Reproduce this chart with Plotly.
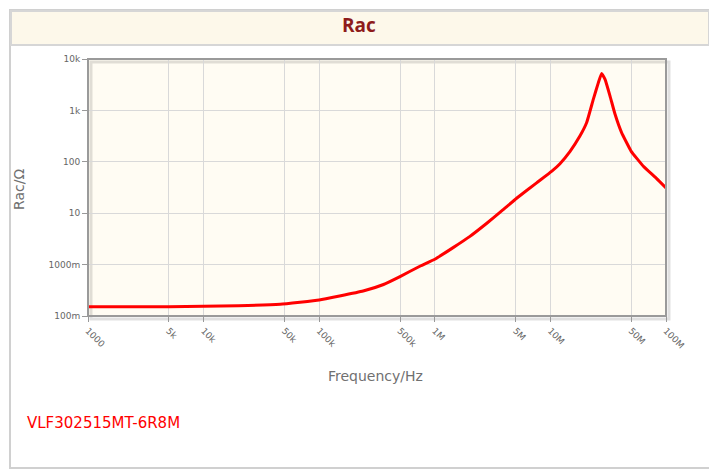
import plotly.graph_objects as go

# ---- data ----
freq_hz = [1e3, 2e3, 5e3, 1e4, 2e4, 4.6e4, 1e5, 1.5e5, 2.4e5, 3.6e5, 5e5, 7.5e5,
           1e6, 1.44e6, 2e6, 2.8e6, 3.9e6, 5.1e6, 7.6e6, 1.03e7, 1.21e7, 1.48e7,
           1.8e7, 2.06e7, 2.35e7, 2.6e7, 2.77e7, 2.97e7, 3.28e7, 3.62e7, 4.13e7,
           5e7, 6.37e7, 8.3e7, 1e8]
rac_ohm = [0.152, 0.151, 0.152, 0.155, 0.158, 0.169, 0.205, 0.245, 0.306, 0.41,
           0.585, 0.94, 1.27, 2.14, 3.5, 6.3, 11.7, 19.5, 39, 66, 92, 160,
           316, 580, 1640, 3470, 5250, 4000, 1900, 850, 370, 160, 82, 47, 31]

x_tickvals = [1e3, 5e3, 1e4, 5e4, 1e5, 5e5, 1e6, 5e6, 1e7, 5e7, 1e8]
x_ticktext = ["1000", "5k", "10k", "50k", "100k", "500k", "1M", "5M", "10M", "50M", "100M"]
y_tickvals = [0.1, 1, 10, 100, 1000, 10000]
y_ticktext = ["100m", "1000m", "10", "100", "1k", "10k"]

part_name = "VLF302515MT-6R8M"
chart_title = "Rac"
x_title = "Frequency/Hz"
y_title = "Rac/Ω"

# window size and page body offset
WIN_W, WIN_H, OFF = 717, 471, 8
# plot area in window pixels
L, R, T, B = 88, 666, 59, 316


def px(x):
    return (x - L) / (R - L)


def py(y):
    return (B - y) / (B - T)


fig = go.Figure()
fig.add_trace(go.Scatter(
    x=freq_hz, y=rac_ohm, mode="lines",
    line=dict(color="#ff0000", width=3, shape="spline", smoothing=0.3),
    hoverinfo="skip", showlegend=False,
))

shapes = [
    # outer frame
    dict(type="rect", xref="paper", yref="paper", x0=px(10), x1=px(710), y0=py(468), y1=py(10),
         line=dict(color="#d0d0d0", width=2), fillcolor="rgba(0,0,0,0)", layer="below"),
    # title band
    dict(type="rect", xref="paper", yref="paper", x0=px(11), x1=px(709), y0=py(45), y1=py(11),
         line=dict(color="#d6d6d6", width=2), fillcolor="#fdf8ea", layer="below"),
    # plot-area shadow
    dict(type="rect", xref="paper", yref="paper", x0=px(L + 3), x1=px(R + 3), y0=py(B + 3), y1=py(T + 3),
         line=dict(color="rgba(0,0,0,0.12)", width=3), fillcolor="rgba(0,0,0,0)", layer="below"),
    # plot-area border
    dict(type="rect", xref="paper", yref="paper", x0=0, x1=1, y0=0, y1=1,
         line=dict(color="#9a9a9a", width=2), fillcolor="rgba(0,0,0,0)", layer="above"),
]

annotations = [
    dict(text="<b>" + chart_title + "</b>", xref="paper", yref="paper", x=px(359), y=py(25),
         showarrow=False, font=dict(family="Open Sans", size=19, color="#8e1b1b"),
         xanchor="center", yanchor="middle"),
    dict(text=x_title, xref="paper", yref="paper", x=px(375), y=py(376),
         showarrow=False, font=dict(family="DejaVu Sans", size=14, color="#707070"),
         xanchor="center", yanchor="middle"),
    dict(text=y_title, xref="paper", yref="paper", x=px(19), y=py(190), textangle=-90,
         showarrow=False, font=dict(family="DejaVu Sans", size=14, color="#707070"),
         xanchor="center", yanchor="middle"),
    dict(text=part_name, xref="paper", yref="paper", x=px(25), y=py(423),
         showarrow=False, font=dict(family="DejaVu Sans", size=15, color="#ff0000"),
         xanchor="left", yanchor="middle"),
]

fig.update_layout(
    width=WIN_W - OFF, height=WIN_H - OFF,
    margin=dict(l=L - OFF, r=WIN_W - R, t=T - OFF, b=WIN_H - B, pad=0),
    paper_bgcolor="white", plot_bgcolor="#fffcf3",
    shapes=shapes, annotations=annotations,
    xaxis=dict(type="log", range=[3, 8], tickmode="array", tickvals=x_tickvals, ticktext=x_ticktext,
               tickangle=45, ticks="outside", ticklen=5, tickcolor="#999999",
               showgrid=True, gridcolor="#d9d9d9", gridwidth=1, zeroline=False,
               tickfont=dict(family="DejaVu Sans", size=9, color="#666666"), showline=False),
    yaxis=dict(type="log", range=[-1, 4], tickmode="array", tickvals=y_tickvals, ticktext=y_ticktext,
               ticks="outside", ticklen=5, tickcolor="#999999",
               showgrid=True, gridcolor="#d9d9d9", gridwidth=1, zeroline=False,
               tickfont=dict(family="DejaVu Sans", size=9, color="#666666"), showline=False),
)

fig.write_html("out.html")
